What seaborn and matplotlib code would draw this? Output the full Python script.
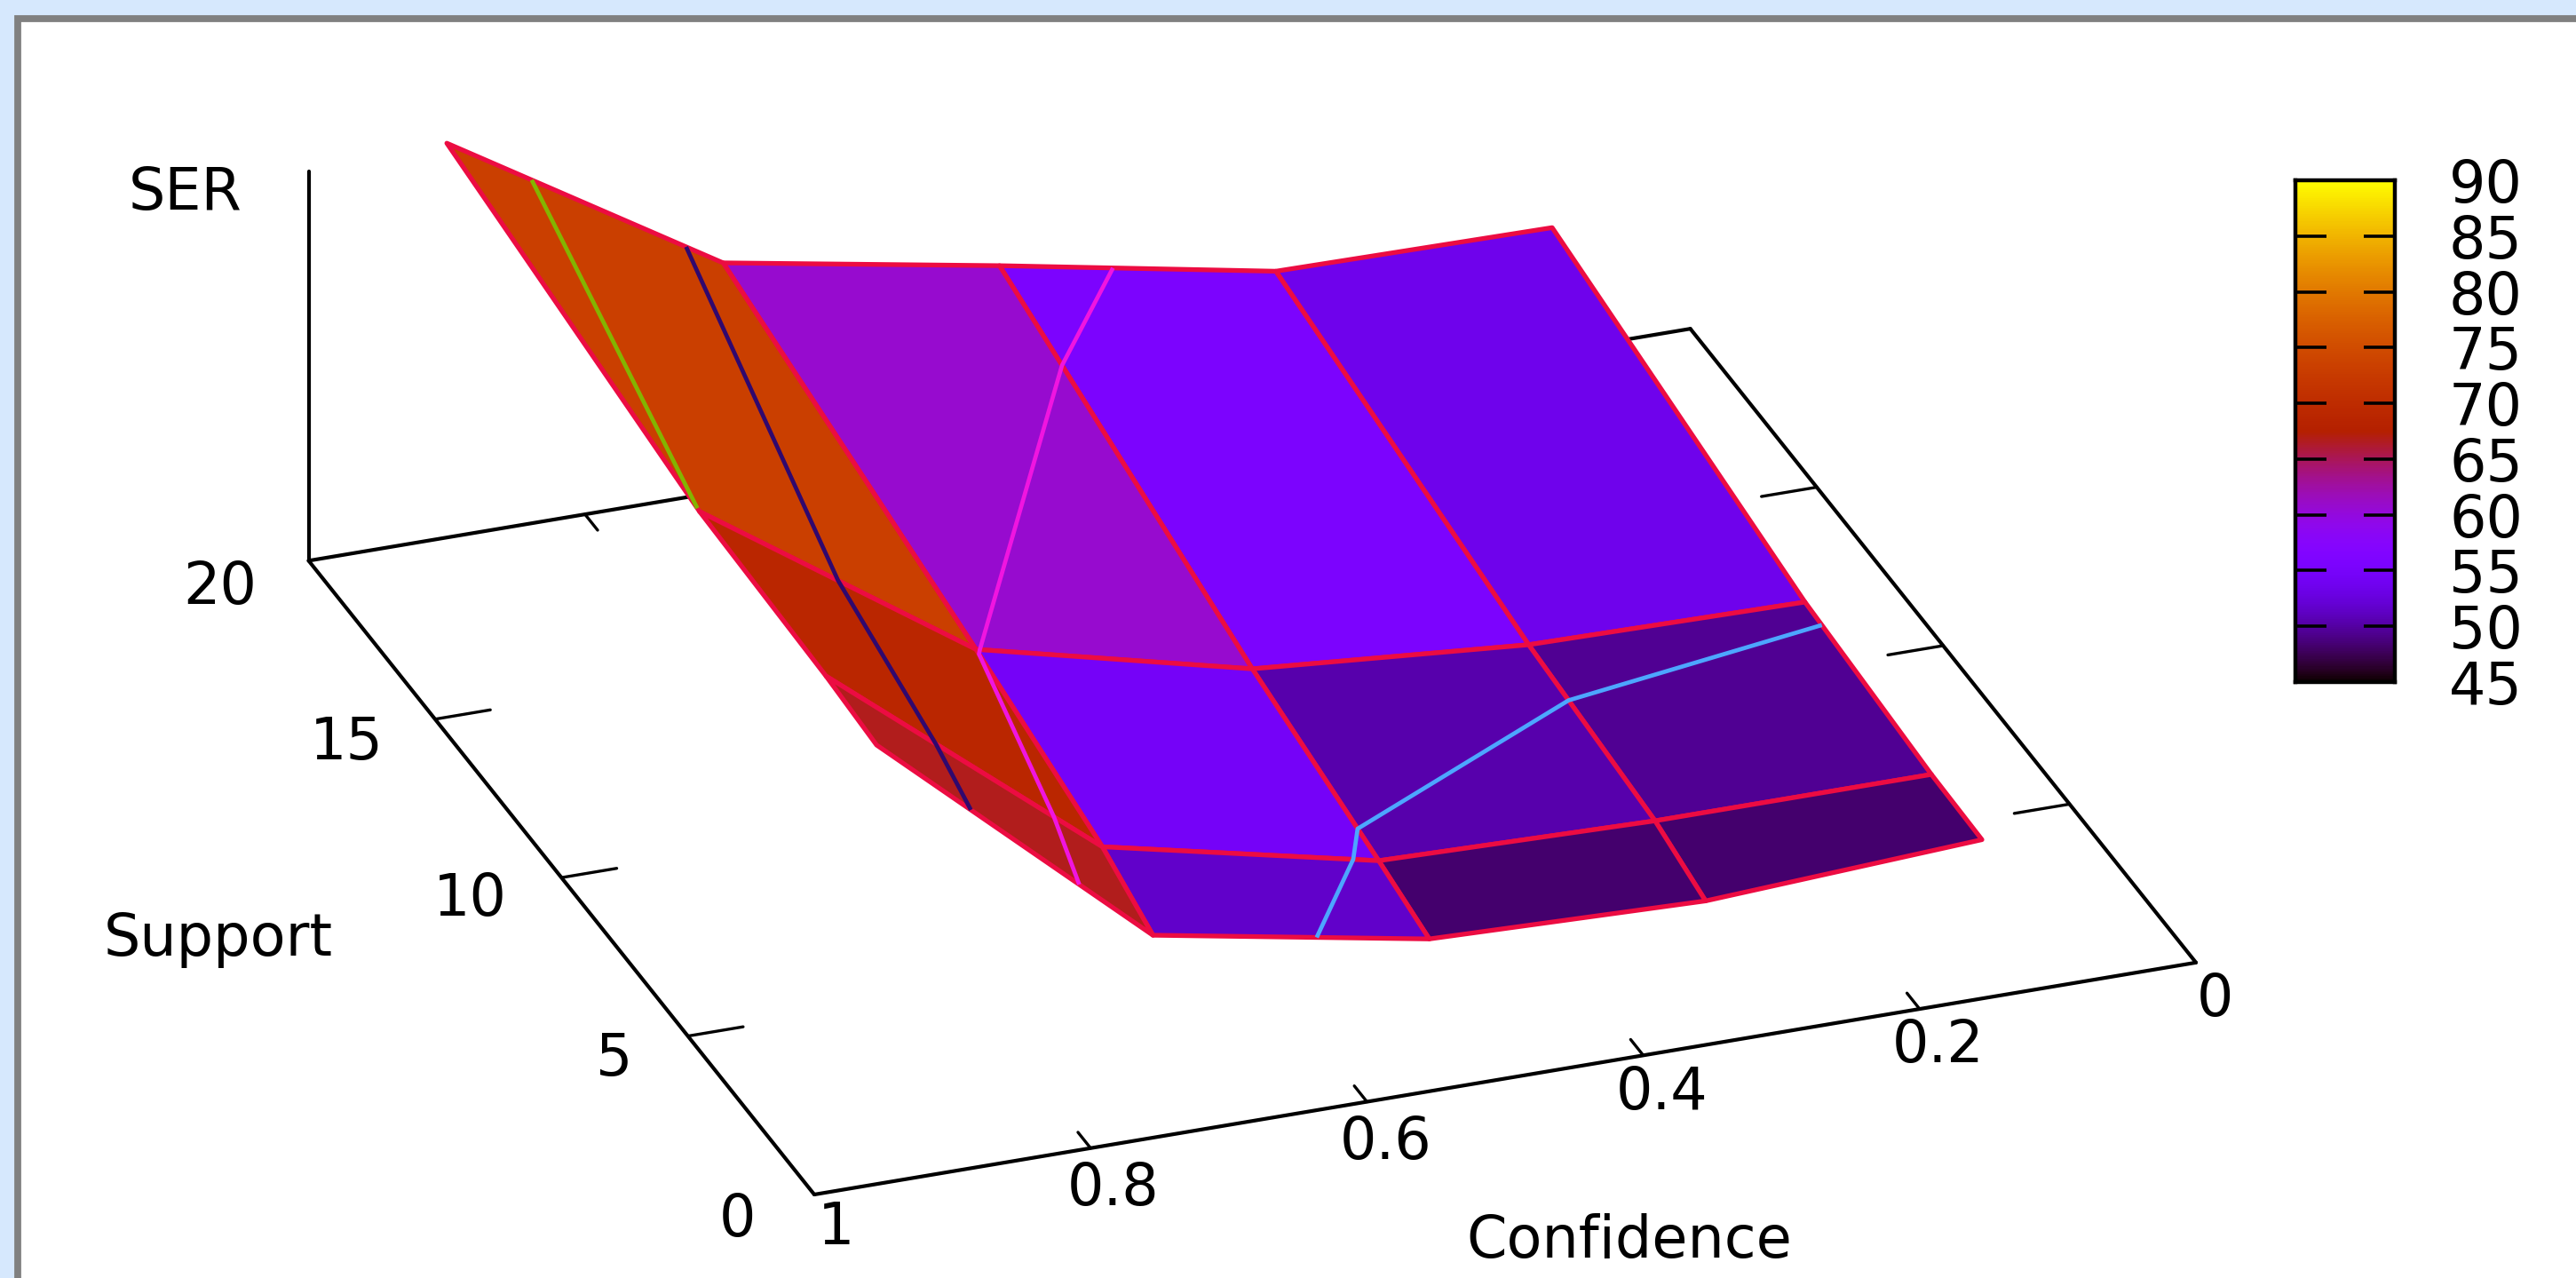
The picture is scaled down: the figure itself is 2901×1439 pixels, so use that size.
import numpy as np
import matplotlib
matplotlib.use("Agg")
import matplotlib.pyplot as plt
from matplotlib.patches import Rectangle
from mpl_toolkits.mplot3d import proj3d
import seaborn as sns

# values
confidence = [0.9, 0.7, 0.5, 0.3, 0.1]
support = [3, 5, 10, 20]
ser_sup3 = [78.7, 53.2, 47.8, 46.9, 48.5]
ser_sup5 = [79.3, 55.9, 49.4, 48.7, 48.7]
ser_sup10 = [79.95, 60.1, 53.0, 50.6, 50.2]
ser_sup20 = [85.5, 67.6, 62.3, 56.7, 56.4]

conf_ticks = [0.8, 0.6, 0.4, 0.2]
sup_ticks = [5, 10, 15]
contour_levels = [50, 60, 70, 80]
contour_colors = ["#4da6ff", "#f015e0", "#30086e", "#84b400"]
cb_ticks = [45, 50, 55, 60, 65, 70, 75, 80, 85, 90]

W, H = 2901, 1439
ZMIN, ZMAX = 43, 85
FS = 47

sns.set_style("white")
plt.rcParams["font.family"] = ["DejaVu Sans"]


def fx(px):
    return px / W


def fy(py):
    return 1 - py / H


fig = plt.figure(figsize=(W / 100, H / 100), dpi=100, facecolor="#d6e8fd")
# window frame, its right and bottom edges run off the picture
fig.add_artist(Rectangle((fx(19.5), fy(H + 40)), fx(W + 40), (H + 40 - 21) / H,
                         transform=fig.transFigure, facecolor="white",
                         edgecolor="#808080", linewidth=5.6, zorder=-10))

ax = fig.add_axes([0, 0, 1, 1], projection="3d", proj_type="ortho", computed_zorder=False)
ax.patch.set_alpha(0)
ax.set_axis_off()
ax.view_init(elev=27.3, azim=-110.1)
ax.set_xlim(1, 0)
ax.set_ylim(0, 20)
ax.set_zlim(ZMIN, ZMAX)
ax.set_box_aspect((1, 1, 0.298), zoom=1.0)

X, Y = np.meshgrid(confidence, support)
Z = np.array([ser_sup3, ser_sup5, ser_sup10, ser_sup20])

# pm3d style: each quad gets the colour of its mean height
quads = (Z[:-1, :-1] + Z[1:, :-1] + Z[:-1, 1:] + Z[1:, 1:]) / 4
cmap = plt.get_cmap("gnuplot")
faces = cmap((quads - 45) / 45)
ax.plot_surface(X, Y, Z, facecolors=faces, rstride=1, cstride=1, shade=False,
                edgecolor="#ec0c42", linewidth=3.8, antialiased=True, zorder=2)
ax.contour(X, Y, Z, levels=contour_levels, colors=contour_colors, linewidths=3.4, zorder=3)

# base frame and ticks
axis_kw = dict(color="black", lw=3, zorder=1)
tick_kw = dict(color="black", lw=2.4, zorder=1)
ax.plot([1, 0], [0, 0], [ZMIN, ZMIN], **axis_kw)
ax.plot([1, 0], [20, 20], [ZMIN, ZMIN], **axis_kw)
ax.plot([1, 1], [0, 20], [ZMIN, ZMIN], **axis_kw)
ax.plot([0, 0], [0, 20], [ZMIN, ZMIN], **axis_kw)
ax.plot([1, 1], [20, 20], [ZMIN, ZMAX], **axis_kw)
for c in conf_ticks:
    ax.plot([c, c], [0, 0.5], [ZMIN, ZMIN], **tick_kw)
    ax.plot([c, c], [20, 19.5], [ZMIN, ZMIN], **tick_kw)
for s in sup_ticks:
    ax.plot([1, 0.96], [s, s], [ZMIN, ZMIN], **tick_kw)
    ax.plot([0, 0.04], [s, s], [ZMIN, ZMIN], **tick_kw)

# place the square 3d box so its base corners land where the reference has them
fig.canvas.draw()


def project(x, y, z):
    px, py, _ = proj3d.proj_transform(x, y, z, ax.get_proj())
    return ax.transData.transform((px, py))


a = project(1, 0, ZMIN)
b = project(0, 0, ZMIN)
scale = 1556 / (b[0] - a[0])
side = H * scale
left = 917 - (a[0] - (W - H) / 2) * scale
bottom = (H - 1345) - a[1] * scale
ax.set_position([left / W, bottom / H, side / W, side / H])

# axis texts
txt = dict(fontsize=FS, ha="center", va="center", color="black")
labels = [("SER", 209, 218), ("20", 248, 662), ("15", 390, 837), ("10", 529, 1013),
          ("5", 692, 1193), ("0", 831, 1374), ("1", 942, 1383), ("0.8", 1254, 1339),
          ("0.6", 1561, 1287), ("0.4", 1872, 1231), ("0.2", 2183, 1178), ("0", 2494, 1126),
          ("Support", 246, 1058), ("Confidence", 1835, 1398)]
for t, px, py in labels:
    fig.text(fx(px), fy(py), t, **txt)

# colour box
cax = fig.add_axes([fx(2585), fy(768), fx(112), (768 - 203) / H])
grad = np.linspace(45, 90, 256).reshape(-1, 1)
sns.heatmap(grad, cmap="gnuplot", vmin=45, vmax=90, cbar=False, ax=cax,
            xticklabels=False, yticklabels=False)
cax.invert_yaxis()
cax.set_axisbelow(False)
cax.set_yticks([(v - 45) / 45 * 256 for v in cb_ticks])
cax.set_yticklabels(cb_ticks, fontsize=FS)
cax.tick_params(axis="y", left=True, right=True, labelleft=False, labelright=True,
                direction="in", length=25, width=2.6, pad=44, color="black", labelcolor="black")
for sp in cax.spines.values():
    sp.set_visible(True)
    sp.set_linewidth(3.2)
    sp.set_color("black")

fig.savefig("out.png", dpi=100, facecolor=fig.get_facecolor())
